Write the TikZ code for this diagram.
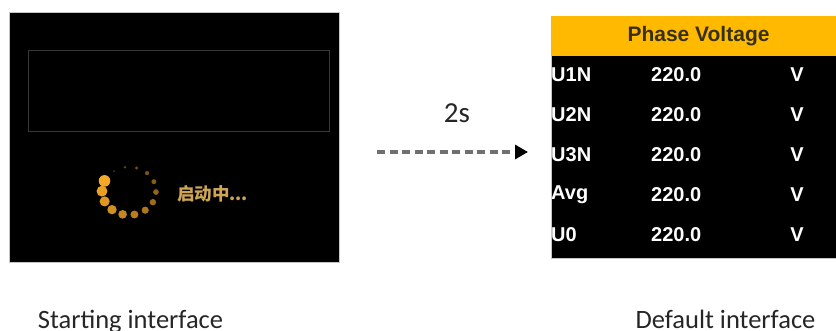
\documentclass[tikz,border=0pt]{standalone}
\usepackage{fontspec}
\setmainfont{Carlito}
\newfontfamily\panelfont{Liberation Sans}
\newfontfamily\cjk{Noto Sans CJK SC}
\usepackage{xcolor}
\definecolor{spin}{RGB}{245, 168, 38}
\definecolor{bootgold}{RGB}{205, 165, 85}
\definecolor{amber}{RGB}{255, 186, 0}
\definecolor{titleink}{RGB}{55, 48, 20}
\definecolor{dashgray}{RGB}{112, 112, 112}
\usepackage{tikz}
\usetikzlibrary{arrows.meta, positioning, calc}
\tikzstyle{screen} = [rectangle, fill=black, draw=gray!45, line width=0.8pt, inner sep=0pt, outer sep=0pt]
\tikzstyle{innerbox} = [rectangle, draw=black!78, line width=0.9pt, inner sep=0pt]
\tikzstyle{header} = [rectangle, fill=amber, inner sep=0pt, text=titleink, font=\panelfont\bfseries\fontsize{21}{23}\selectfont]
\tikzstyle{cell} = [inner sep=0pt, text=white, font=\panelfont\bfseries\fontsize{20}{22}\selectfont]
\tikzstyle{caption} = [inner sep=0pt, anchor=base, text=black!85, font=\fontsize{26.5}{30}\selectfont]
\tikzstyle{dasharrow} = [line width=3.2pt, draw=dashgray, dash pattern=on 8pt off 4.5pt, -{Triangle[length=13pt,width=14pt,color=black]}]

\begin{document}
\begin{tikzpicture}[x=1pt, y=-1pt]
    \useasboundingbox (0,0) rectangle (836,331);
    \fill[white] (0,0) rectangle (836,331);

    % starting screen
    \node[screen, minimum width=330pt, minimum height=250pt] (startscreen) at (174,137) {};
    \node[innerbox, minimum width=301pt, minimum height=81pt] (msgbox) at (178.5,90.5) {};
    \coordinate (spincenter) at (129,191);
    \foreach \i in {0,...,13} {
        \pgfmathsetmacro\ang{124-25.3*\i}
        \pgfmathsetmacro\rad{1+0.37*\i}
        \pgfmathsetmacro\tone{35+5*\i}
        \fill[spin!\tone!black] ($(spincenter)+({27*cos(\ang)},{-24*sin(\ang)})$) circle (\rad pt);
    }
    \node[inner sep=0pt, anchor=west, text=bootgold, font=\cjk\bfseries\fontsize{17.5}{20}\selectfont] (bootmsg) at (177,194) {启动中...};

    % default screen
    \node[screen, minimum width=285pt, minimum height=242pt] (defaultscreen) at (693.5,137) {};
    \node[header, minimum width=285pt, minimum height=40pt, anchor=north] (title) at (defaultscreen.north) {\hspace*{10pt}Phase Voltage};
    \foreach \name [count=\k] in {U1N,U2N,U3N,Avg,U0} {
        \node[cell, anchor=west] (name\k) at (551,35+40*\k) {\name};
        \node[cell, anchor=west] (value\k) at (651,35+40*\k) {220.0};
        \node[cell] (unit\k) at (797,35+40*\k) {V};
    }

    % transition
    \node[inner sep=0pt, text=black!85, font=\fontsize{29}{32}\selectfont] (delay) at (457,113) {2s};
    \coordinate (arrstart) at (377,152);
    \coordinate (arrend) at (528,152);
    \draw[dasharrow] (arrstart) -- (arrend);

    % captions
    \node[caption] (startcap) at (130.5,329) {Starting interface};
    \node[caption] (defaultcap) at (725.5,329) {Default interface};
\end{tikzpicture}
\end{document}
